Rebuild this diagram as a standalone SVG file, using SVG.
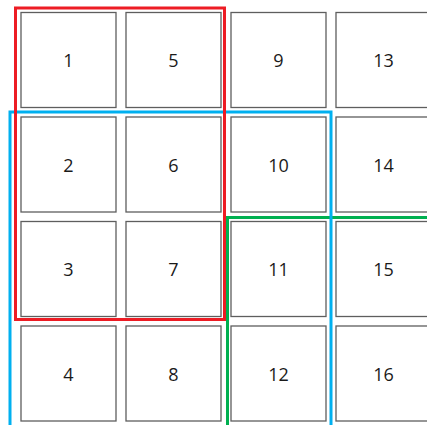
<svg xmlns="http://www.w3.org/2000/svg" width="427" height="425" viewBox="0 0 427 425">
<style>
.box{fill:#fff;stroke:#5e5e5e;stroke-width:1.3}
.lbl{font-family:"Open Sans","Liberation Sans",Arial,sans-serif;font-size:18px;fill:#1a1a1a;text-anchor:middle}
.grp{fill:none;stroke-width:3}
</style>
<rect width="427" height="425" fill="#fff"/>
<g id="n1"><rect class="box" x="21" y="12.5" width="95" height="95"/><text class="lbl" x="68.5" y="67">1</text></g>
<g id="n2"><rect class="box" x="21" y="117" width="95" height="95"/><text class="lbl" x="68.5" y="171.5">2</text></g>
<g id="n3"><rect class="box" x="21" y="221.5" width="95" height="95"/><text class="lbl" x="68.5" y="276">3</text></g>
<g id="n4"><rect class="box" x="21" y="326" width="95" height="95"/><text class="lbl" x="68.5" y="380.5">4</text></g>
<g id="n5"><rect class="box" x="126" y="12.5" width="95" height="95"/><text class="lbl" x="173.5" y="67">5</text></g>
<g id="n6"><rect class="box" x="126" y="117" width="95" height="95"/><text class="lbl" x="173.5" y="171.5">6</text></g>
<g id="n7"><rect class="box" x="126" y="221.5" width="95" height="95"/><text class="lbl" x="173.5" y="276">7</text></g>
<g id="n8"><rect class="box" x="126" y="326" width="95" height="95"/><text class="lbl" x="173.5" y="380.5">8</text></g>
<g id="n9"><rect class="box" x="231" y="12.5" width="95" height="95"/><text class="lbl" x="278.5" y="67">9</text></g>
<g id="n10"><rect class="box" x="231" y="117" width="95" height="95"/><text class="lbl" x="278.5" y="171.5">10</text></g>
<g id="n11"><rect class="box" x="231" y="221.5" width="95" height="95"/><text class="lbl" x="278.5" y="276">11</text></g>
<g id="n12"><rect class="box" x="231" y="326" width="95" height="95"/><text class="lbl" x="278.5" y="380.5">12</text></g>
<g id="n13"><rect class="box" x="336" y="12.5" width="95" height="95"/><text class="lbl" x="383.5" y="67">13</text></g>
<g id="n14"><rect class="box" x="336" y="117" width="95" height="95"/><text class="lbl" x="383.5" y="171.5">14</text></g>
<g id="n15"><rect class="box" x="336" y="221.5" width="95" height="95"/><text class="lbl" x="383.5" y="276">15</text></g>
<g id="n16"><rect class="box" x="336" y="326" width="95" height="95"/><text class="lbl" x="383.5" y="380.5">16</text></g>
<g id="groups">
<path class="grp" stroke="#00b050" d="M227.5,425 V217.5 H427"/>
<path class="grp" stroke="#00b0f0" d="M10,425 V112 H331 V425"/>
<rect class="grp" stroke="#ed1c24" x="15.5" y="8" width="209" height="311.5"/>
</g>
</svg>
